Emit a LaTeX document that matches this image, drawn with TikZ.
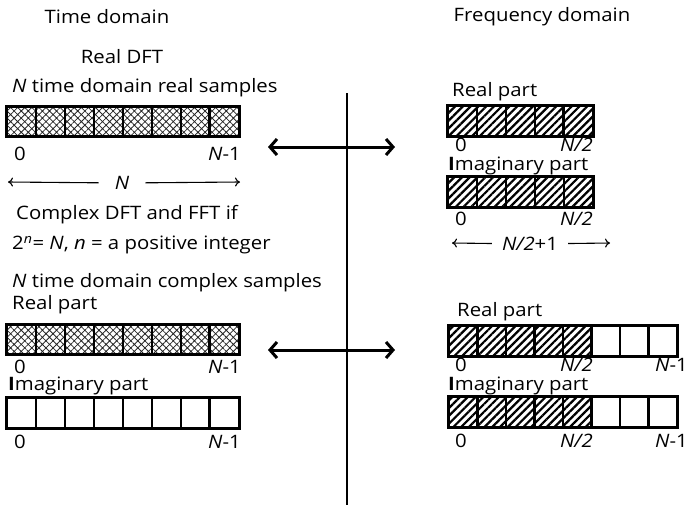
\documentclass[tikz,border=0pt]{standalone}
\usepackage{fontspec}
\setmainfont{Open Sans}[FakeStretch=1.1]
\usetikzlibrary{patterns.meta,arrows.meta}

\begin{document}
\begin{tikzpicture}[
        x=1pt, y=-1pt,
        font=\fontsize{18.5}{22}\selectfont,
        every node/.style={inner sep=0pt},
        cell/.style={draw=black, line width=1.6pt, minimum width=29pt, minimum height=29pt},
        xcell/.style={cell, pattern={Hatch[angle=45, distance=5pt, line width=0.8pt]}, pattern color=black!85},
        hcell/.style={cell, pattern={Lines[angle=45, distance=5.5pt, line width=2.2pt]}},
        frame/.style={draw=black, line width=2.6pt},
        swap/.style={{Straight Barb[length=7pt, width=16pt]}-{Straight Barb[length=7pt, width=16pt]}, line width=3pt},
        span/.style={-{To[length=5pt, width=9pt]}, line width=1.1pt},
    ]

    \useasboundingbox (0,0) rectangle (688,507);

    %====================== TITLES ======================
    \node (ttime) at (107,17) {Time domain};
    \node (tfreq) at (542,17) {Frequency domain};

    %====================== REAL DFT (time domain, top left) ======================
    \node (treal) at (122,57) {Real DFT};
    \node[anchor=west] (tnreal) at (12,88) {\textit{N} time domain real samples};
    \foreach \i in {0,...,7} {
        \node[xcell] (tr\i) at ({21.5+29*\i},121.5) {};
    }
    \draw[frame] (tr0.north west) rectangle (tr7.south east);
    \draw[frame] (tr7.north west) rectangle (tr7.south east);
    \node[anchor=west] (tr-0) at (14,154) {0};
    \node[anchor=east] (tr-n) at (241,154) {\textit{N}-1};

    \node[inner xsep=16pt] (tr-len) at (122,183) {\textit{N}};
    \coordinate (tr-lenl) at (8,182);
    \coordinate (tr-lenr) at (240,182);
    \draw[span] (tr-len) -- (tr-lenl);
    \draw[span] (tr-len) -- (tr-lenr);

    %====================== COMPLEX DFT (time domain, bottom left) ======================
    \node (tcplx) at (127,215) {Complex DFT and FFT if};
    \node[anchor=west] (tcond) at (12,245) {2\textsuperscript{\textit{n}}= \textit{N}, \textit{n} = a positive integer};
    \node[anchor=west] (tncplx) at (12,283) {\textit{N} time domain complex samples};

    \node[anchor=west] (tcre) at (12,305) {Real part};
    \foreach \i in {0,...,7} {
        \node[xcell] (tc\i) at ({21.5+29*\i},339.5) {};
    }
    \draw[frame] (tc0.north west) rectangle (tc7.south east);
    \draw[frame] (tc7.north west) rectangle (tc7.south east);
    \node[anchor=west] (tc-0) at (14,367) {0};
    \node[anchor=east] (tc-n) at (241,367) {\textit{N}-1};

    \node[anchor=west] (tcim) at (8,386) {\textbf{I}maginary part};
    \foreach \i in {0,...,7} {
        \node[cell] (ti\i) at ({21.5+29*\i},413) {};
    }
    \draw[frame] (ti0.north west) rectangle (ti7.south east);
    \draw[frame] (ti7.north west) rectangle (ti7.south east);
    \node[anchor=west] (ti-0) at (14,442) {0};
    \node[anchor=east] (ti-n) at (241,442) {\textit{N}-1};

    %====================== SEPARATOR ======================
    \coordinate (sep-t) at (347,93);
    \coordinate (sep-b) at (347,505);
    \draw[line width=2pt] (sep-t) -- (sep-b);

    \coordinate (sw1-l) at (268,147);
    \coordinate (sw1-r) at (395,147);
    \draw[swap] (sw1-l) -- (sw1-r);
    \coordinate (sw2-l) at (268,350);
    \coordinate (sw2-r) at (395,350);
    \draw[swap] (sw2-l) -- (sw2-r);

    %====================== REAL DFT (frequency domain, top right) ======================
    \node[anchor=west] (fre) at (452,92) {Real part};
    \foreach \i in {0,...,4} {
        \node[hcell] (fr\i) at ({462.5+29*\i},121) {};
    }
    \draw[frame] (fr0.north west) rectangle (fr4.south east);
    \draw[frame] (fr4.north west) rectangle (fr4.south east);
    \node[anchor=west] (fr-0) at (455,145) {0};
    \node[anchor=east] (fr-h) at (593,145) {\textit{N/2}};

    \node[anchor=west] (fim) at (448,166) {\textbf{I}maginary part};
    \foreach \i in {0,...,4} {
        \node[hcell] (fi\i) at ({462.5+29*\i},192) {};
    }
    \draw[frame] (fi0.north west) rectangle (fi4.south east);
    \node[anchor=west] (fi-0) at (455,219) {0};
    \node[anchor=east] (fi-h) at (593,219) {\textit{N/2}};

    \node[inner xsep=10pt] (fi-len) at (530,244) {\textit{N/2}+1};
    \coordinate (fi-lenl) at (452,243);
    \coordinate (fi-lenr) at (610,243);
    \draw[span] (fi-len) -- (fi-lenl);
    \draw[span] (fi-len) -- (fi-lenr);

    %====================== COMPLEX DFT (frequency domain, bottom right) ======================
    \node[anchor=west] (fcre) at (457,312) {Real part};
    \foreach \i in {0,...,7} {
        \ifnum\i<5
            \node[hcell] (fc\i) at ({463.25+28.5*\i},341) {};
        \else
            \node[cell] (fc\i) at ({463.25+28.5*\i},341) {};
        \fi
    }
    \draw[frame] (fc0.north west) rectangle (fc7.south east);
    \node[anchor=west] (fc-0) at (455,365) {0};
    \node[anchor=east] (fc-h) at (593,365) {\textit{N/2}};
    \node[anchor=east] (fc-n) at (688,365) {\textit{N}-1};

    \node[anchor=west] (fcim) at (448,386) {\textbf{I}maginary part};
    \foreach \i in {0,...,7} {
        \ifnum\i<5
            \node[hcell] (fk\i) at ({463.25+28.5*\i},412) {};
        \else
            \node[cell] (fk\i) at ({463.25+28.5*\i},412) {};
        \fi
    }
    \draw[frame] (fk0.north west) rectangle (fk7.south east);
    \node[anchor=west] (fk-0) at (455,441) {0};
    \node[anchor=east] (fk-h) at (593,441) {\textit{N/2}};
    \node[anchor=east] (fk-n) at (688,441) {\textit{N}-1};

\end{tikzpicture}
\end{document}
